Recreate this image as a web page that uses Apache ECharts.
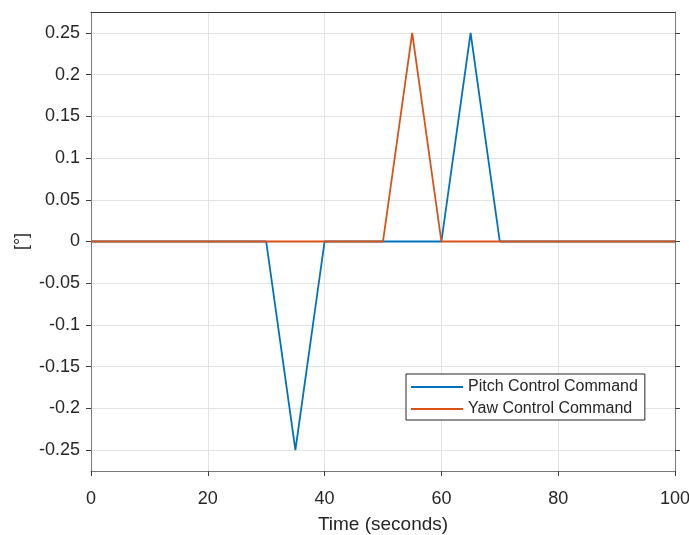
<!DOCTYPE html>
<html>
<head>
<meta charset="utf-8">
<script src="https://cdn.jsdelivr.net/npm/echarts@6/dist/echarts.min.js"></script>
<style>
  html, body { margin: 0; padding: 0; background: #fff; }
  #chart { width: 689px; height: 535px; }
</style>
</head>
<body>
<div id="chart"></div>
<script>
// Control command time histories (degrees) sampled at the breakpoints
const timeSec = [0, 30, 35, 40, 50, 55, 60, 65, 70, 100];
const pitchCmd = [0, 0, -0.25, 0, 0, 0, 0, 0.25, 0, 0];
const yawCmd = [0, 0, 0, 0, 0, 0.25, 0, 0, 0, 0];
const seriesNames = ['Pitch Control Command', 'Yaw Control Command'];
const yTicks = [-0.25, -0.2, -0.15, -0.1, -0.05, 0, 0.05, 0.1, 0.15, 0.2, 0.25];
const yTickLabels = ['-0.25', '-0.2', '-0.15', '-0.1', '-0.05', '0', '0.05', '0.1', '0.15', '0.2', '0.25'];

const FONT = 'Liberation Sans, Arial, Helvetica, sans-serif';
const TEXT = '#262626';
const AXIS = '#7a7a7a';
const GRID = '#e3e3e3';

const pairs = (ys) => timeSec.map((t, i) => [t, ys[i]]);

const chart = echarts.init(document.getElementById('chart'), null, { renderer: 'canvas' });

const yLabelFmt = (v) => {
  const i = yTicks.findIndex((t) => Math.abs(t - v) < 1e-9);
  return i >= 0 ? yTickLabels[i] : '';
};

chart.setOption({
  animation: false,
  backgroundColor: '#fff',
  grid: { left: 91, right: 14, top: 12, bottom: 64, containLabel: false, outerBoundsMode: 'none' },
  legend: {
    left: 406, top: 374,
    orient: 'vertical',
    z: 20,
    data: seriesNames.map((n) => ({ name: n, icon: 'rect' })),
    itemWidth: 52, itemHeight: 2, itemGap: 6,
    padding: [5, 7, 3, 5],
    backgroundColor: '#fff',
    borderColor: '#262626', borderWidth: 1, borderRadius: 0,
    textStyle: { fontFamily: FONT, fontSize: 16, color: TEXT, padding: [0, 0, 0, 0] },
    selectedMode: false
  },
  xAxis: [
    {
      type: 'value', min: 0, max: 100, interval: 20, position: 'bottom',
      name: 'Time (seconds)', nameLocation: 'middle', nameGap: 44,
      nameTextStyle: { fontFamily: FONT, fontSize: 19, color: TEXT },
      axisLine: { show: true, onZero: false, lineStyle: { color: AXIS, width: 1 } },
      axisTick: { show: true, inside: false, length: 5, lineStyle: { color: '#404040' } },
      axisLabel: { fontFamily: FONT, fontSize: 18, color: TEXT, margin: 19 },
      splitLine: { show: true, lineStyle: { color: GRID, width: 1 } }
    },
    {
      type: 'value', min: 0, max: 100, interval: 20, position: 'top',
      axisLine: { show: true, onZero: false, lineStyle: { color: '#3a3a3a', width: 1 } },
      axisTick: { show: false },
      axisLabel: { show: false },
      splitLine: { show: false }
    }
  ],
  yAxis: [
    {
      type: 'value', min: -0.275, max: 0.275, interval: 0.025, position: 'left',
      name: '[°]', nameLocation: 'middle', nameGap: 60, nameRotate: 90, nameMoveOverlap: false,
      nameTextStyle: { fontFamily: FONT, fontSize: 18, color: TEXT },
      axisLine: { show: true, onZero: false, lineStyle: { color: AXIS, width: 1 } },
      axisTick: { show: true, inside: false, length: 5, customValues: yTicks, lineStyle: { color: '#404040' } },
      axisLabel: { fontFamily: FONT, fontSize: 18, color: TEXT, margin: 11, customValues: yTicks, formatter: yLabelFmt },
      splitLine: { show: false }
    },
    {
      type: 'value', min: -0.275, max: 0.275, interval: 0.025, position: 'right',
      axisLine: { show: true, onZero: false, lineStyle: { color: AXIS, width: 1 } },
      axisTick: { show: true, inside: false, length: 5, customValues: yTicks, lineStyle: { color: '#404040' } },
      axisLabel: { show: false },
      splitLine: { show: false }
    }
  ],
  series: [
    {
      // horizontal grid lines at the labelled ticks
      type: 'line', data: [], silent: true, yAxisIndex: 0,
      markLine: {
        silent: true, symbol: 'none', label: { show: false }, z: 0,
        lineStyle: { color: GRID, width: 1, type: 'solid' },
        data: yTicks.map((v) => ({ yAxis: v }))
      },
      z: 0
    },
    {
      name: seriesNames[0], type: 'line', data: pairs(pitchCmd),
      showSymbol: false, symbol: 'none',
      lineStyle: { color: '#0072BD', width: 1.8 }, itemStyle: { color: '#0072BD' },
      z: 6
    },
    {
      name: seriesNames[1], type: 'line', data: pairs(yawCmd),
      showSymbol: false, symbol: 'none',
      lineStyle: { color: '#D95319', width: 1.8 }, itemStyle: { color: '#D95319' },
      z: 7
    }
  ]
});
</script>
</body>
</html>
